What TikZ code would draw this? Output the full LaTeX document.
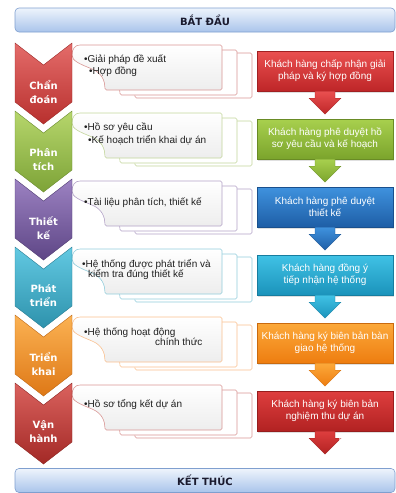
\documentclass[tikz,border=0pt]{standalone}
\usepackage{fontspec}
\setmainfont{Liberation Sans}
\newfontfamily\chevfont{DejaVu Sans}
\newfontfamily\serifnum{Liberation Serif}
\usetikzlibrary{shadows}

\definecolor{bannertop}{HTML}{EEF4FC}
\definecolor{bannerbot}{HTML}{A9C4EB}
\definecolor{bannerdraw}{HTML}{7F9FCF}
\definecolor{bannertext}{HTML}{1A1A2E}
% chevrons
\definecolor{chAt}{HTML}{E46C6A}\definecolor{chAb}{HTML}{B8302E}
\definecolor{chBt}{HTML}{B6D66C}\definecolor{chBb}{HTML}{7DA337}
\definecolor{chCt}{HTML}{9C82C2}\definecolor{chCb}{HTML}{5E4686}
\definecolor{chDt}{HTML}{62C9E2}\definecolor{chDb}{HTML}{2E92AC}
\definecolor{chEt}{HTML}{FBB253}\definecolor{chEb}{HTML}{DE7816}
\definecolor{chFt}{HTML}{DA625E}\definecolor{chFb}{HTML}{A32926}
% document borders
\definecolor{dA}{HTML}{D99694}
\definecolor{dB}{HTML}{C3D69B}
\definecolor{dC}{HTML}{B3A2C7}
\definecolor{dD}{HTML}{92CDDC}
\definecolor{dE}{HTML}{FAC08F}
\definecolor{dF}{HTML}{D99694}
% right boxes
\definecolor{bAt}{HTML}{EA5050}\definecolor{bAb}{HTML}{BE2628}
\definecolor{bBt}{HTML}{A8D04E}\definecolor{bBb}{HTML}{7BA42C}
\definecolor{bCt}{HTML}{3F92DE}\definecolor{bCb}{HTML}{1E5EA6}
\definecolor{bDt}{HTML}{40C2E5}\definecolor{bDb}{HTML}{1B93BB}
\definecolor{bEt}{HTML}{FCA93A}\definecolor{bEb}{HTML}{EE7D10}
\definecolor{bFt}{HTML}{DE3E3E}\definecolor{bFb}{HTML}{B22222}

\newcommand\mychev[3]{%
  \path[top color=#2, bottom color=#3, draw=#3!85!black, line width=0.4pt]
    (15,#1) -- (43.5,{#1+22}) -- (72,#1) -- (72,{#1+59}) -- (43.5,{#1+81}) -- (15,{#1+59}) -- cycle;}

\newcommand\mydoc[4]{%
  \begin{scope}[shift={(#1,#2)}]
    \path[draw=#4, line width=0.6pt, #3]
      (80,2) [rounded corners=1.5pt] -- (222,2) -- (222,47) -- (105,47) [sharp corners]
      .. controls (105,38) and (102,30) .. (92,26)
      .. controls (80,21) and (72,18) .. (72,12)
      .. controls (72,6) and (75,2) .. (80,2) -- cycle;
  \end{scope}}

\newcommand\mydocstack[2]{% T, border
  \mydoc{30}{#1+8}{fill=white}{#2}
  \mydoc{15}{#1+5}{fill=white}{#2}
  \mydoc{0}{#1}{top color=white, bottom color=black!7}{#2}}

\newcommand\myarrow[3]{% box name, top, bottom colours
  \path[top color=#2, bottom color=#3, draw=#3!90!black, line width=0.3pt]
    ([xshift=-10pt]#1.south) -- ++(20,0) -- ++(0,7) -- ++(6,0) -- ++(-16,16)
    -- ++(-16,-16) -- ++(6,0) -- cycle;}

\tikzset{
  x=1pt, y=-1pt,
  chevtxt/.style={font=\chevfont\bfseries\fontsize{10}{14}\selectfont, text=white, align=center, inner sep=0pt},
  doctxt/.style={font=\fontsize{10}{12}\selectfont, text=black!88, anchor=west, inner sep=0pt, text height=7pt, text depth=2pt},
  boxnode/.style={minimum width=136pt, minimum height=40pt, inner sep=0pt, text=white, align=center,
    font=\fontsize{10}{12}\selectfont, draw=#1!85!black, line width=0.3pt,
    drop shadow={opacity=0.25, shadow xshift=1pt, shadow yshift=-1.5pt}},
  banner/.style={rounded corners=4pt, draw=bannerdraw, line width=0.6pt, top color=bannertop, bottom color=bannerbot,
    minimum width=380pt, minimum height=24pt, inner sep=0pt,
    font=\chevfont\bfseries\fontsize{10}{12}\selectfont, text=bannertext},
}

\begin{document}
\begin{tikzpicture}
\useasboundingbox (0,0) rectangle (396,493);

% banners
\node[banner] (start) at (205,20) {BẮT ĐẦU};

% ---------- row 1 ----------
\mydocstack{43}{dA}
\node[doctxt] (d1a) at (84,60) {•Giải pháp đề xuất};
\node[doctxt] (d1b) at (89,72) {•Hợp đồng};
\node[boxnode=bAb, top color=bAt, bottom color=bAb] (b1) at (325,71) {Khách hàng chấp nhận giải\\pháp và ký hợp đồng};
% ---------- row 2 ----------
\mydocstack{111}{dB}
\node[doctxt] (d2a) at (84,128) {•Hồ sơ yêu cầu};
\node[doctxt] (d2b) at (88,141) {•Kế hoạch triển khai dự án};
\node[boxnode=bBb, top color=bBt, bottom color=bBb] (b2) at (325,139) {Khách hàng phê duyệt hồ\\sơ yêu cầu và kế hoạch};
% ---------- row 3 ----------
\mydocstack{179}{dC}
\node[doctxt] (d3a) at (84,203) {•Tài liệu phân tích, thiết kế};
\node[boxnode=bCb, top color=bCt, bottom color=bCb] (b3) at (325,207) {Khách hàng phê duyệt\\thiết kế};
% ---------- row 4 ----------
\mydocstack{247}{dD}
\node[doctxt] (d4a) at (82,265) {•Hệ thống được phát triển và};
\node[doctxt] (d4b) at (88,275) {kiểm tra đúng thiết kế};
\node[boxnode=bDb, top color=bDt, bottom color=bDb] (b4) at (325,275) {Khách hàng đồng ý\\tiếp nhận hệ thống};
% ---------- row 5 ----------
\mydocstack{315}{dE}
\node[doctxt] (d5a) at (84,333) {•Hệ thống hoạt động};
\node[doctxt] (d5b) at (155,343) {chính thức};
\node[boxnode=bEb, top color=bEt, bottom color=bEb] (b5) at (325,343) {Khách hàng ký biên bản bàn\\giao hệ thống};
% ---------- row 6 ----------
\mydocstack{383}{dF}
\node[doctxt] (d6a) at (84,405) {•Hồ sơ tổng kết dự án};
\node[boxnode=bFb, top color=bFt, bottom color=bFb] (b6) at (325,411) {Khách hàng ký biên bản\\nghiệm thu dự án};

% arrows under the boxes
\myarrow{b1}{bAt}{bAb}
\myarrow{b2}{bBt}{bBb}
\myarrow{b3}{bCt}{bCb}
\myarrow{b4}{bDt}{bDb}
\myarrow{b5}{bEt}{bEb}
\myarrow{b6}{bFt}{bFb}

% chevrons
\mychev{43}{chAt}{chAb}
\node[chevtxt] (c1) at (43.5,92) {Chẩn\\đoán};
\mychev{111}{chBt}{chBb}
\node[chevtxt] (c2) at (43.5,160) {Phân\\tích};
\mychev{179}{chCt}{chCb}
\node[chevtxt] (c3) at (43.5,228) {Thiết\\kế};
\mychev{247}{chDt}{chDb}
\node[chevtxt] (c4) at (43.5,296) {Phát\\triển};
\mychev{315}{chEt}{chEb}
\node[chevtxt] (c5) at (43.5,364) {Triển\\khai};
\mychev{383}{chFt}{chFb}
\node[chevtxt] (c6) at (43.5,432) {Vận\\hành};

\node[text=white, font=\serifnum\fontsize{13}{13}\selectfont, inner sep=0pt] (num) at (343,440) {12};

\node[banner] (end) at (205,480.5) {KẾT THÚC};
\end{tikzpicture}
\end{document}
